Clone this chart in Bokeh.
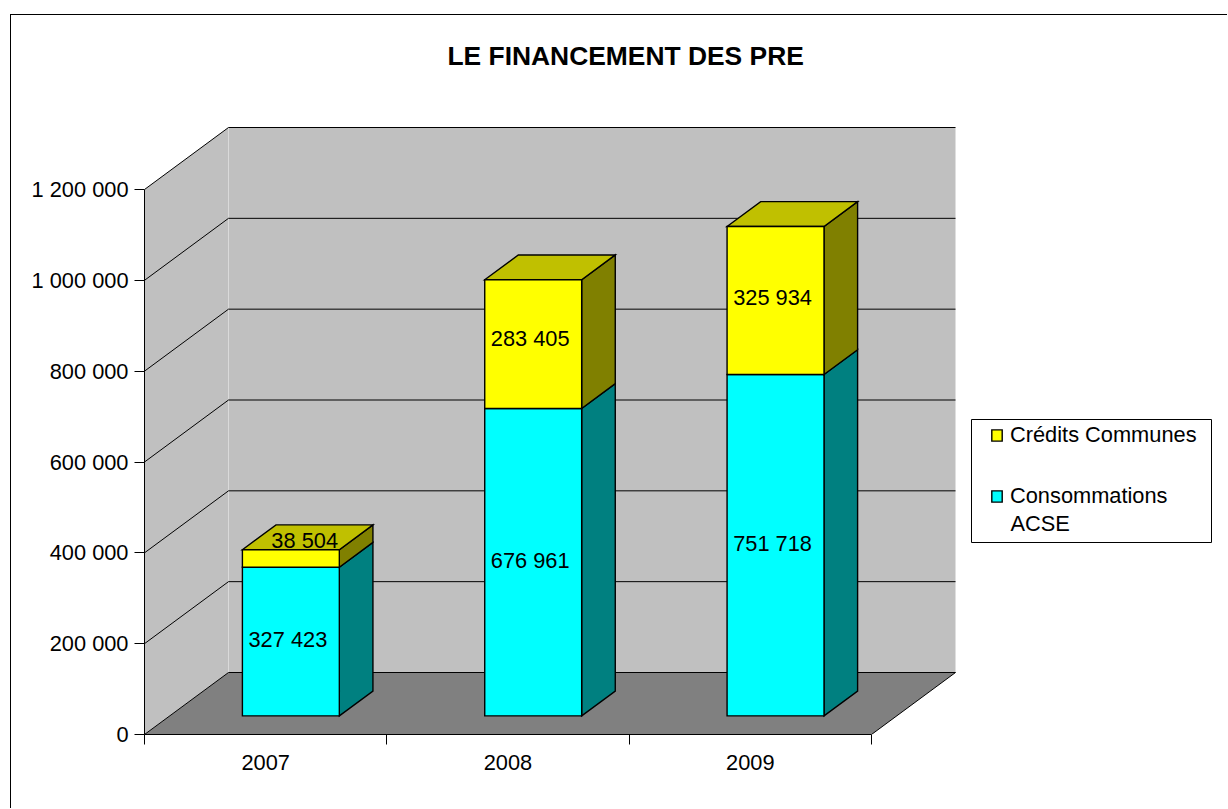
from bokeh.embed import file_html
from bokeh.resources import INLINE
from bokeh.core.properties import value
from bokeh.models import (BoxAnnotation, FixedTicker, Label, Legend, LegendItem, LinearAxis, Range1d, Title)
from bokeh.plotting import figure

# ---- data ----
years = ["2007", "2008", "2009"]
consommations_acse = [327423, 676961, 751718]
credits_communes = [38504, 283405, 325934]
consommations_labels = ["327 423", "676 961", "751 718"]
credits_labels = ["38 504", "283 405", "325 934"]
y_ticks = [0, 200000, 400000, 600000, 800000, 1000000, 1200000]
y_tick_labels = ["0", "200 000", "400 000", "600 000", "800 000", "1 000 000", "1 200 000"]
series_credits = "Crédits Communes"
series_conso_lines = ["Consommations", "ACSE"]
chart_title = "LE FINANCEMENT DES PRE"

# ---- layout (page pixels; Bokeh's page template has no body margin) ----
PAGE_W, PAGE_H = 1228, 809
OX, OY = 11, 15          # figure origin on the page: the chart-area edge is drawn just outside it
W, H = PAGE_W - OX, PAGE_H - OY
AX_X, AX_Y0 = 144, 734
PX_PER_CAT = (871 - 144) / 3
PX_PER_VAL = 545 / 1200000
FRAME_TOP = 80
FONT = "Liberation Sans"
FS = "21.8px"
CONSO_NUDGE_Y = -2
CREDITS_NUDGE_Y = [3, -6, -3]

# 3D projection, in data units
DEPTH_X = 84 / PX_PER_CAT
DEPTH_Y = 62 / PX_PER_VAL
BAR_W = 0.4
GAP = 0.3


def proj(x, y, d):
    """Project a point (x, y) at depth fraction d (0 front .. 1 back)."""
    return x + d * DEPTH_X, y + d * DEPTH_Y


x_end = (PAGE_W - AX_X) / PX_PER_CAT
y_end = (AX_Y0 - FRAME_TOP) / PX_PER_VAL

p = figure(
    width=W, height=H, output_backend="svg", toolbar_location=None,
    margin=(OY, 0, 0, OX),
    styles={"box-shadow": "-1px -1px 0 0 black"},
    x_range=Range1d(0, x_end), y_range=Range1d(0, y_end),
    min_border_left=AX_X - OX, min_border_right=0,
    min_border_top=FRAME_TOP - OY, min_border_bottom=PAGE_H - AX_Y0,
    outline_line_color=None, background_fill_color=None, border_fill_color="white",
    title=None, x_axis_type=None, y_axis_type=None,
)
p.grid.visible = False

# axes
yaxis = LinearAxis(
    ticker=FixedTicker(ticks=y_ticks), bounds=(0, y_ticks[-1]),
    major_label_overrides={v: s for v, s in zip(y_ticks, y_tick_labels)},
    major_tick_out=10, major_tick_in=0, minor_tick_out=0, minor_tick_in=0,
    major_label_standoff=6, major_label_text_font=FONT, major_label_text_font_size=FS,
    major_label_text_color="black", axis_line_color="black", major_tick_line_color="black",
)
p.add_layout(yaxis, "left")

n = len(years)
centers = [i + 0.5 for i in range(n)]
xaxis = LinearAxis(
    ticker=FixedTicker(ticks=centers, minor_ticks=list(range(n + 1))), bounds=(0, n),
    major_label_overrides={c: y for c, y in zip(centers, years)},
    major_tick_out=0, major_tick_in=0, minor_tick_out=10, minor_tick_in=0,
    major_label_standoff=10, major_label_text_font=FONT, major_label_text_font_size=FS,
    major_label_text_color="black", axis_line_color="black", minor_tick_line_color="black",
)
p.add_layout(xaxis, "below")

# walls and floor
bx, by = proj(0, 0, 1)
top = y_ticks[-1]
p.patch([0, bx, bx, 0], [0, by, top + by, top], fill_color="#C0C0C0", line_color=None)
p.patch([bx, n + bx, n + bx, bx], [by, by, top + by, top + by], fill_color="#C0C0C0", line_color=None)
p.line([bx, bx], [by, top + by], line_color="#DADADA", line_width=1)
p.patch([0, n, n + bx, bx], [0, 0, by, by], fill_color="#808080", line_color=None)

# gridlines
grid_xs, grid_ys = [], []
for v in y_ticks:
    grid_xs.append([0, bx, n + bx])
    grid_ys.append([v, v + by, v + by])
grid_xs.append([n, n + bx])
grid_ys.append([0, by])
p.multi_line(grid_xs, grid_ys, line_color="black", line_width=1)

# bars
D0, D1 = GAP, GAP + BAR_W
LINE = dict(line_color="black", line_width=1.4, line_join="miter")


def draw_box(x0, x1, y0, y1, side, top_col=None):
    xa, ya = proj(x1, y0, D0)
    xb, yb = proj(x1, y0, D1)
    xc, yc = proj(x1, y1, D1)
    xd, yd = proj(x1, y1, D0)
    p.patch([xa, xb, xc, xd], [ya, yb, yc, yd], fill_color=side, **LINE)
    if top_col:
        xe, ye = proj(x0, y1, D0)
        xf, yf = proj(x0, y1, D1)
        p.patch([xe, xd, xc, xf], [ye, yd, yc, yf], fill_color=top_col, **LINE)
    xf0, yf0 = proj(x0, y0, D0)
    xf1, yf1 = proj(x1, y1, D0)
    return xf0, xf1, yf0, yf1


lab_x, lab_y, lab_text, lab_yo = [], [], [], []
cyan_r = yellow_r = None
for i in range(n):
    x0 = i + GAP
    x1 = x0 + BAR_W
    c = consommations_acse[i]
    y = credits_communes[i]
    xf0, xf1, yf0, yf1 = draw_box(x0, x1, 0, c, "#008080")
    cyan_r = p.quad(left=[xf0], right=[xf1], bottom=[yf0], top=[yf1], fill_color="#00FFFF", **LINE)
    lab_x.append((xf0 + xf1) / 2); lab_y.append((yf0 + yf1) / 2)
    lab_text.append(consommations_labels[i]); lab_yo.append(CONSO_NUDGE_Y)
    xg0, xg1, yg0, yg1 = draw_box(x0, x1, c, c + y, "#808000", "#C0C000")
    yellow_r = p.quad(left=[xg0], right=[xg1], bottom=[yg0], top=[yg1], fill_color="#FFFF00", **LINE)
    if (yg1 - yg0) * PX_PER_VAL < 25:
        # thin segment: the label rides on the top face of the bar
        tx, ty = proj((x0 + x1) / 2, c + y, (D0 + D1) / 2)
        lab_x.append(tx); lab_y.append(ty)
    else:
        lab_x.append((xg0 + xg1) / 2); lab_y.append((yg0 + yg1) / 2)
    lab_yo.append(CREDITS_NUDGE_Y[i])
    lab_text.append(credits_labels[i])

p.text(x=lab_x, y=lab_y, text=lab_text, x_offset=-3, y_offset=lab_yo,
       text_align="center", text_baseline="middle", text_color="black",
       text_font=value(FONT), text_font_size=value(FS))

# title
p.add_layout(Title(text=chart_title, align="left", offset=447 - AX_X, standoff=20,
                   text_font=FONT, text_font_size="26.4px", text_font_style="bold",
                   text_color="black"), "above")

# legend box, then legend
p.add_layout(BoxAnnotation(left=971 - OX, right=1211 - OX, top=419 - OY, bottom=542 - OY,
                           left_units="canvas", right_units="canvas", top_units="canvas", bottom_units="canvas",
                           fill_color="white", fill_alpha=1, line_color="black", line_alpha=1, line_width=1,
                           level="glyph"))
legend = Legend(
    items=[LegendItem(label=series_credits, renderers=[yellow_r]),
           LegendItem(label=series_conso_lines[0], renderers=[cyan_r])],
    location=(990 - AX_X, AX_Y0 - 509),
    orientation="vertical", padding=0, margin=0, spacing=35,
    glyph_width=13, glyph_height=14, label_standoff=7,
    label_text_font=FONT, label_text_font_size=FS, label_text_color="black",
    border_line_color=None, background_fill_alpha=0,
)
p.add_layout(legend, "center")
p.add_layout(Label(x=1010 - OX, y=522.5 - OY, x_units="canvas", y_units="canvas", text=series_conso_lines[1],
                   text_font=FONT, text_font_size=FS, text_color="black",
                   text_align="left", text_baseline="middle"))

open("out.html", "w").write(file_html(p, INLINE))
